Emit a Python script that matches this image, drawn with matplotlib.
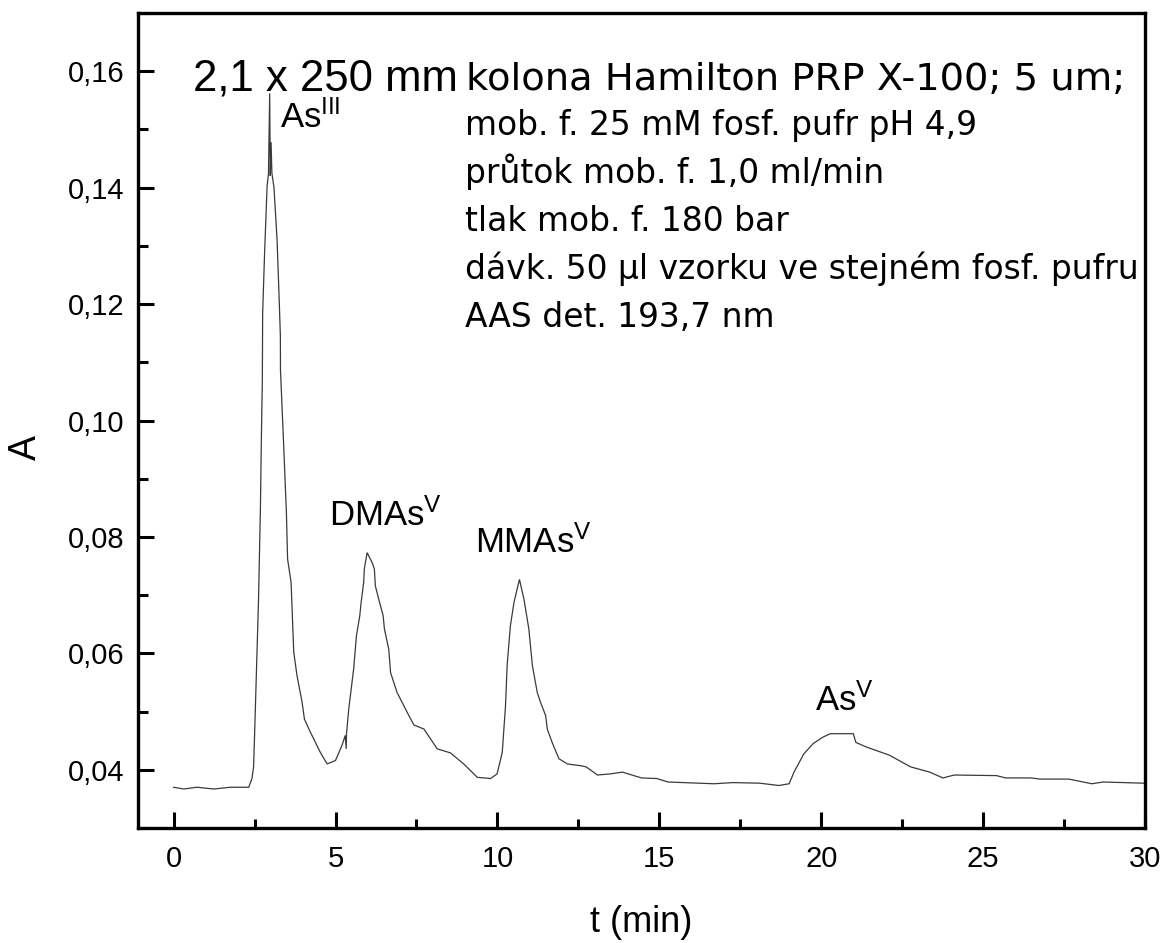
import matplotlib
matplotlib.use("Agg")
import matplotlib.pyplot as plt
from matplotlib.ticker import MultipleLocator, FuncFormatter

plt.rcParams['font.family'] = ['Liberation Sans', 'DejaVu Sans']
plt.rcParams['mathtext.fontset'] = 'custom'
plt.rcParams['mathtext.rm'] = 'Liberation Sans'
plt.rcParams['mathtext.it'] = 'Liberation Sans:italic'
plt.rcParams['mathtext.bf'] = 'Liberation Sans:bold'

# ---- data ----
time_min = [0.0, 0.31, 0.72, 1.24, 1.75, 2.32, 2.42, 2.47, 2.50, 2.56, 2.62, 2.68, 2.71,
            2.74, 2.75, 2.81, 2.886, 2.93, 2.967, 2.985, 3.01, 3.035, 3.10, 3.195, 3.257,
            3.297, 3.30, 3.40, 3.483, 3.52, 3.628, 3.71, 3.81, 3.968, 4.04, 4.22, 4.53,
            4.74, 5.0, 5.20, 5.30, 5.33, 5.34, 5.41, 5.56, 5.646, 5.75, 5.79, 5.87, 5.89,
            5.976, 6.13, 6.20, 6.23, 6.335, 6.47, 6.51, 6.645, 6.70, 6.90, 7.21, 7.42,
            7.73, 8.14, 8.55, 8.96, 9.38, 9.79, 9.99, 10.15, 10.25, 10.30, 10.40, 10.51,
            10.68, 10.82, 10.97, 11.08, 11.23, 11.33, 11.49, 11.54, 11.69, 11.90, 12.16,
            12.57, 12.74, 13.09, 13.50, 13.86, 14.45, 14.92, 15.27, 16.69, 17.28, 18.10,
            18.69, 19.01, 19.16, 19.46, 19.75, 20.05, 20.28, 20.99, 21.07, 21.40, 22.11,
            22.76, 23.35, 23.76, 24.11, 25.41, 25.70, 26.47, 26.77, 27.65, 28.36, 28.71,
            29.95, 30.0]
absorbance = [0.0370, 0.0367, 0.0370, 0.0367, 0.0370, 0.0370, 0.0385, 0.0405, 0.0459, 0.0573,
              0.0687, 0.0847, 0.0967, 0.1070, 0.1185, 0.1288, 0.1402, 0.1425, 0.1562, 0.1420,
              0.1478, 0.1425, 0.1400, 0.1310, 0.1213, 0.1145, 0.1087, 0.0956, 0.0842, 0.0762,
              0.0722, 0.0602, 0.0562, 0.0516, 0.0487, 0.0465, 0.0430, 0.0410, 0.0416, 0.0442,
              0.0459, 0.0436, 0.0462, 0.0505, 0.0573, 0.0630, 0.0665, 0.0687, 0.0722, 0.0745,
              0.0773, 0.0756, 0.0745, 0.0716, 0.0693, 0.0665, 0.0642, 0.0607, 0.0567, 0.0533,
              0.0499, 0.0477, 0.0470, 0.0436, 0.0429, 0.0410, 0.0387, 0.0385, 0.0393, 0.0430,
              0.0510, 0.0579, 0.0647, 0.0687, 0.0727, 0.0693, 0.0642, 0.0579, 0.0533, 0.0516,
              0.0493, 0.0470, 0.0447, 0.0419, 0.0410, 0.0407, 0.0405, 0.0391, 0.0393, 0.0396,
              0.0386, 0.0385, 0.0379, 0.0376, 0.0378, 0.0377, 0.0373, 0.0376, 0.0396, 0.0427,
              0.0445, 0.0456, 0.0462, 0.0462, 0.0447, 0.0439, 0.0425, 0.0405, 0.0396, 0.0386,
              0.0391, 0.0390, 0.0386, 0.0386, 0.0384, 0.0384, 0.0376, 0.0379, 0.0377, 0.0377]

peak_labels = ['As$^{\\mathrm{III}}$', 'DMAs$^{\\mathrm{V}}$', 'MMAs$^{\\mathrm{V}}$', 'As$^{\\mathrm{V}}$']
peak_label_x = [3.30, 4.81, 9.32, 19.82]
peak_label_y = [0.1502, 0.0819, 0.0773, 0.0502]

column_head = '2,1 x 250 mm'
condition_lines = ['kolona Hamilton PRP X-100; 5 um;',
                   'mob. f. 25 mM fosf. pufr pH 4,9',
                   'průtok mob. f. 1,0 ml/min',
                   'tlak mob. f. 180 bar',
                   'dávk. 50 µl vzorku ve stejném fosf. pufru',
                   'AAS det. 193,7 nm']

x_label = 't (min)'
y_label = 'A'

# ---- figure ----
W, H = 1165, 943
fig = plt.figure(figsize=(W / 100, H / 100), dpi=100)
L, R, T, B = 138, 1145, 13, 828
ax = fig.add_axes([L / W, 1 - B / H, (R - L) / W, (B - T) / H])

ax.plot(time_min, absorbance, color='#3a3a3a', lw=0.9, solid_joinstyle='miter')

ax.set_xlim(-1.1, 30)
ax.set_ylim(0.03, 0.17)

ax.xaxis.set_major_locator(MultipleLocator(5))
ax.xaxis.set_minor_locator(MultipleLocator(2.5))
ax.yaxis.set_major_locator(MultipleLocator(0.02))
ax.yaxis.set_minor_locator(MultipleLocator(0.01))
ax.xaxis.set_major_formatter(FuncFormatter(lambda v, p: f'{v:.0f}'))
ax.yaxis.set_major_formatter(FuncFormatter(lambda v, p: f'{v:.2f}'.replace('.', ',')))

for s in ax.spines.values():
    s.set_linewidth(2.4)
ax.tick_params(which='both', direction='in', top=False, right=False, width=2.2,
               labelsize=21)
ax.tick_params(axis='x', which='major', length=11.5, pad=12)
ax.tick_params(axis='x', which='minor', length=6.5)
ax.tick_params(axis='y', which='major', length=11.5, pad=10)
ax.tick_params(axis='y', which='minor', length=7.5)

ax.set_xlabel(x_label, fontsize=26)
ax.xaxis.label.set_va('baseline')
ax.xaxis.set_label_coords(0.5, (B - 932) / (B - T))
ax.set_ylabel(y_label, fontsize=27)
ax.yaxis.label.set_va('center')
ax.yaxis.label.set_ha('center')
ax.yaxis.set_label_coords((25.5 - L) / (R - L), (B - 448) / (B - T))

for lab, lx, ly in zip(peak_labels, peak_label_x, peak_label_y):
    ax.text(lx, ly, lab, fontsize=25, ha='left', va='baseline')

# experimental conditions
ax.text(0.596, 0.1567, column_head, fontsize=31.5, ha='left', va='baseline')
ax.text(9.045, 0.1567, condition_lines[0], fontsize=27.7, ha='left', va='baseline',
        family=['DejaVu Sans'])
cond_y = [0.1490, 0.1408, 0.1325, 0.1243, 0.1161]
for line, cy in zip(condition_lines[1:], cond_y):
    ax.text(9.014, cy, line, fontsize=23.7, ha='left', va='baseline',
            family=['DejaVu Sans'])

fig.savefig('out.png', dpi=100)
